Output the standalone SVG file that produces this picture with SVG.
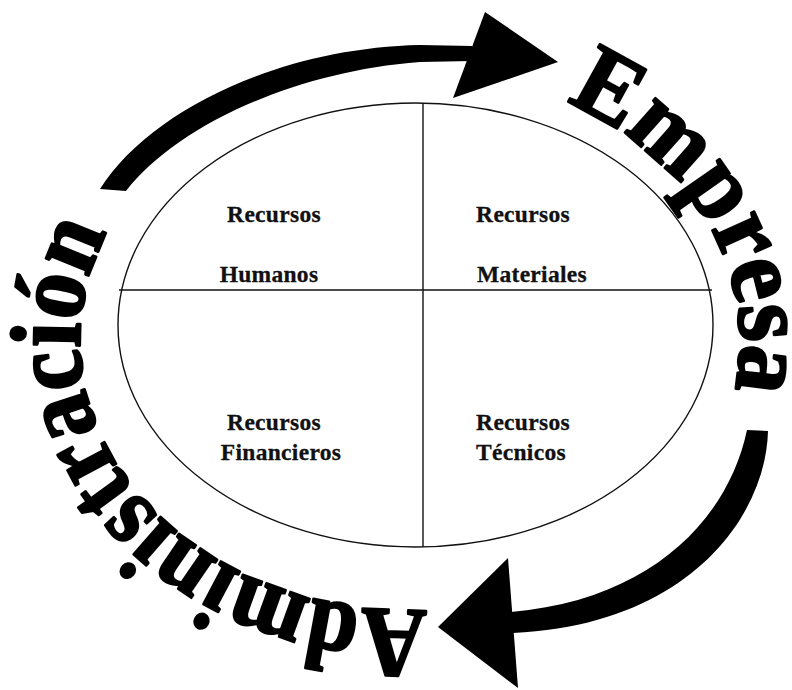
<svg xmlns="http://www.w3.org/2000/svg" xmlns:xlink="http://www.w3.org/1999/xlink" width="792" height="690" viewBox="0 0 792 690">
  <style>
    .label { font-family: "Liberation Serif", "Times New Roman", serif; font-weight: bold; font-size: 23.5px; letter-spacing: 0.3px; fill: #111; stroke: #111; stroke-width: 0.3; text-anchor: middle; }
    .ring { font-family: "Liberation Serif", "Times New Roman", serif; font-weight: bold; font-size: 100px; fill: #000; stroke: #000; stroke-width: 2.6; stroke-linejoin: round; }
    .edge { fill: none; stroke: #111; stroke-width: 1.4; }
    .arrow { fill: #000; stroke: none; }
  </style>
  <defs>
    <!-- clockwise ellipse used as the baseline of the circular words -->
    <path id="ringPath" d="M643.3,530.9 A330,270 0 0 1 91.3,409.9 A330,270 0 0 1 495.4,79.2 A330,270 0 0 1 643.3,530.9"/>
  </defs>
  <rect width="792" height="690" fill="#fff"/>

  <g id="resources">
    <ellipse class="edge" cx="415.5" cy="325" rx="297.5" ry="222"/>
    <line class="edge" x1="423" y1="103" x2="423" y2="547" stroke-width="1.2"/>
    <line class="edge" x1="119" y1="290" x2="712" y2="290" stroke-width="1.2"/>
  </g>

  <g id="humanos">
    <text class="label" x="274" y="222">Recursos</text>
    <text class="label" x="269" y="282">Humanos</text>
  </g>
  <g id="materiales">
    <text class="label" x="523" y="222">Recursos</text>
    <text class="label" x="532" y="282">Materiales</text>
  </g>
  <g id="financieros">
    <text class="label" x="274" y="430">Recursos</text>
    <text class="label" x="281" y="460">Financieros</text>
  </g>
  <g id="tecnicos">
    <text class="label" x="523" y="430">Recursos</text>
    <text class="label" x="521" y="460">Técnicos</text>
  </g>

  <g id="administracion">
    <text class="ring"><textPath xlink:href="#ringPath" href="#ringPath" startOffset="234" textLength="602" lengthAdjust="spacingAndGlyphs">Administración</textPath></text>
  </g>
  <g id="empresa">
    <text class="ring"><textPath xlink:href="#ringPath" href="#ringPath" startOffset="1356" textLength="362" lengthAdjust="spacingAndGlyphs">Empresa</textPath></text>
  </g>

  <g id="connectors">
    <!-- upper arrow: from the left side over the top toward "Empresa" -->
    <path class="arrow" d="M100,189 C150,110 280,48 420,45 L472,46 L472,61 L420,62 C290,72 175,128 126,191 Z"/>
    <polygon class="arrow" points="485,12 558,62 453,98"/>
    <!-- lower arrow: from the right side under the ellipse toward "Administración" -->
    <path class="arrow" d="M747,430 L768,431 C766,515 690,625 513,633 L511,612 C650,600 728,520 747,430 Z"/>
    <polygon class="arrow" points="508,558 438,627 518,688"/>
  </g>
</svg>
